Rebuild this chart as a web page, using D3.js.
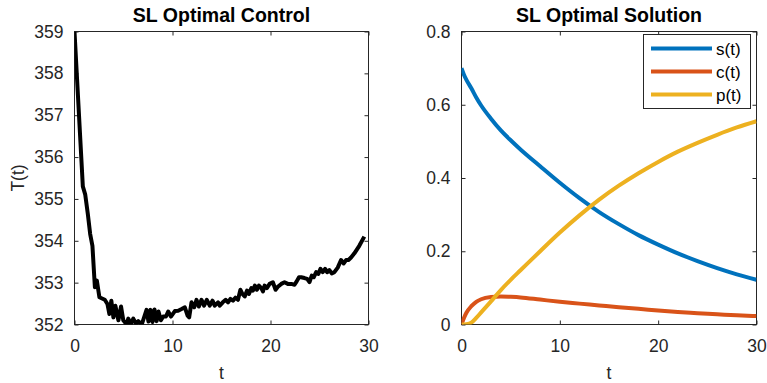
<!DOCTYPE html>
<html>
<head>
<meta charset="utf-8">
<script src="https://cdn.jsdelivr.net/npm/d3@7"></script>
<style>
  body { margin: 0; background: #fff; }
  svg { font-family: "Liberation Sans", Arial, sans-serif; }
</style>
</head>
<body>
<svg id="chart" width="767" height="383"></svg>
<script>
// left panel: control temperature T(t)
const ctrlT = [0, 0.85, 1.09, 1.36, 1.60, 1.83, 2.08, 2.28, 2.54, 3.09, 3.36, 3.56, 3.76, 3.97, 4.17, 4.48, 4.75, 4.98,
  5.33, 5.49, 5.74, 6.00, 6.28, 6.51, 6.86, 7.35, 7.55, 7.75, 7.96, 8.16, 8.38, 8.57, 8.82, 9.05, 9.33, 9.56, 9.84,
  10.24, 10.58, 10.93, 11.26, 11.54, 11.70, 11.94, 12.21, 12.45, 12.69, 12.96, 13.22, 13.50, 13.80, 14.08, 14.31,
  14.65, 14.82, 15.13, 15.43, 15.67, 15.91, 16.17, 16.42, 16.68, 16.93, 17.13, 17.37, 17.60, 17.80, 18.05, 18.21,
  18.41, 18.62, 18.82, 19.06, 19.23, 19.40, 19.63, 19.91, 20.24, 20.52, 20.75, 21.10, 21.43, 21.77, 22.12, 22.45,
  22.67, 22.91, 23.13, 23.47, 23.74, 23.98, 24.21, 24.42, 24.66, 24.89, 25.10, 25.33, 25.57, 25.78, 26.01, 26.25,
  26.52, 26.86, 27.20, 27.47, 27.71, 27.95, 28.22, 28.56, 29.06, 29.57];
const ctrlV = [359.0, 355.3, 355.11, 354.64, 354.16, 353.88, 352.89, 353.05, 352.65, 352.59, 352.49, 352.25, 352.57, 352.17, 352.45, 352.10, 352.43, 352.10,
  352.0, 352.14, 352.0, 352.14, 352.02, 352.08, 352.0, 352.35, 352.07, 352.35, 352.06, 352.36, 352.08, 352.31, 352.10, 352.19, 352.19, 352.31, 352.19,
  352.32, 352.33, 352.37, 352.41, 352.21, 352.17, 352.53, 352.41, 352.59, 352.43, 352.59, 352.45, 352.59, 352.45, 352.57, 352.45,
  352.53, 352.45, 352.53, 352.59, 352.53, 352.61, 352.57, 352.64, 352.59, 352.83, 352.73, 352.67, 352.81, 352.73, 352.87, 352.81,
  352.93, 352.83, 352.93, 352.87, 352.79, 352.93, 352.87, 352.97, 353.01, 352.83, 352.90, 352.97, 353.01, 352.97, 352.97, 352.95,
  353.03, 353.13, 353.13, 353.11, 353.09, 353.01, 353.17, 353.13, 353.25, 353.21, 353.33, 353.25, 353.33, 353.25, 353.30, 353.22,
  353.25, 353.36, 353.54, 353.46, 353.54, 353.54, 353.60, 353.70, 353.88, 354.10];
const leftYTicks = [352, 353, 354, 355, 356, 357, 358, 359];
const xTicks = [0, 10, 20, 30];

// right panel: s, c, p
const solT = [0, 0.25, 0.5, 1, 1.5, 2, 3, 4, 5, 6, 8, 10, 12, 14, 16, 18, 20, 22, 24, 26, 28, 30];
const sVals = [0.700, 0.682, 0.668, 0.645, 0.620, 0.598, 0.562, 0.530, 0.503, 0.478, 0.432, 0.387, 0.345, 0.307, 0.274, 0.244, 0.218, 0.194, 0.173, 0.154, 0.137, 0.122];
const cVals = [0, 0.018, 0.032, 0.050, 0.062, 0.069, 0.075, 0.0765, 0.0755, 0.074, 0.068, 0.062, 0.057, 0.052, 0.047, 0.043, 0.038, 0.034, 0.031, 0.028, 0.025, 0.023];
const pVals = [0, 0, 0.0005, 0.005, 0.018, 0.033, 0.063, 0.094, 0.122, 0.148, 0.200, 0.251, 0.298, 0.341, 0.379, 0.413, 0.444, 0.472, 0.496, 0.518, 0.538, 0.555];
const rightYTicks = [0, 0.2, 0.4, 0.6, 0.8];
const seriesNames = ["s(t)", "c(t)", "p(t)"];
const seriesColors = ["#0072BD", "#D95319", "#EDB120"];

const svg = d3.select("#chart");
const axisColor = "#262626";
const axTop = 31.5, axBot = 324.5;
const tickFont = "17.5px";

function panel(id, x0, x1, yDomain, yTicks, yFmt, title, ylab) {
  const x = d3.scaleLinear().domain([0, 30]).range([x0, x1]);
  const y = d3.scaleLinear().domain(yDomain).range([axBot, axTop]);
  const g = svg.append("g");

  g.append("clipPath").attr("id", id)
    .append("rect").attr("x", x0).attr("y", axTop).attr("width", x1 - x0).attr("height", axBot - axTop);

  // axes (inner ticks on all four sides, like matlab box on)
  const styleAxis = sel => {
    sel.select(".domain").remove();
    sel.selectAll("line").attr("stroke", axisColor);
    sel.selectAll("text").attr("fill", axisColor).style("font-size", tickFont);
  };
  g.append("g").attr("transform", `translate(0,${axBot})`)
    .call(d3.axisBottom(x).tickValues(xTicks).tickSizeInner(-4).tickPadding(9))
    .call(styleAxis)
    .selectAll("text").attr("dy", null).attr("y", 27);
  g.append("g").attr("transform", `translate(0,${axTop})`)
    .call(d3.axisTop(x).tickValues(xTicks).tickSizeInner(-4).tickFormat(""))
    .call(styleAxis);
  g.append("g").attr("transform", `translate(${x0},0)`)
    .call(d3.axisLeft(y).tickValues(yTicks).tickFormat(yFmt).tickSizeInner(-4).tickPadding(11))
    .call(styleAxis);
  g.append("g").attr("transform", `translate(${x1},0)`)
    .call(d3.axisRight(y).tickValues(yTicks).tickSizeInner(-4).tickFormat(""))
    .call(styleAxis);
  g.append("rect").attr("x", x0).attr("y", axTop).attr("width", x1 - x0).attr("height", axBot - axTop)
    .attr("fill", "none").attr("stroke", axisColor).attr("stroke-width", 1);

  g.append("text").attr("x", (x0 + x1) / 2).attr("y", 21.5).attr("text-anchor", "middle")
    .style("font-size", "19.5px").style("font-weight", "bold").attr("fill", "#000").text(title);
  g.append("text").attr("x", (x0 + x1) / 2).attr("y", 379).attr("text-anchor", "middle")
    .style("font-size", tickFont).attr("fill", axisColor).text("t");
  if (ylab) {
    g.append("text").attr("transform", `translate(24,${(axTop + axBot) / 2}) rotate(-90)`)
      .attr("text-anchor", "middle").style("font-size", tickFont).attr("fill", axisColor).text(ylab);
  }
  const plot = g.append("g").attr("clip-path", `url(#${id})`);
  return { x, y, g, plot };
}

// left
const L = panel("clipL", 74.5, 368.5, [352, 359], leftYTicks, d3.format("d"), "SL Optimal Control", "T(t)");
const lineL = d3.line().x((d, i) => L.x(ctrlT[i])).y(d => L.y(d));
L.plot.append("path").datum(ctrlV).attr("d", lineL)
  .attr("fill", "none").attr("stroke", "#000").attr("stroke-width", 4).attr("stroke-linejoin", "round");

// right
const R = panel("clipR", 461.5, 756.5, [0, 0.8], rightYTicks, d => d === 0 ? "0" : d3.format(".1f")(d), "SL Optimal Solution", null);
const lineR = d3.line().x((d, i) => R.x(solT[i])).y(d => R.y(d)).curve(d3.curveMonotoneX);
[sVals, cVals, pVals].forEach((vals, k) => {
  R.plot.append("path").datum(vals).attr("d", lineR)
    .attr("fill", "none").attr("stroke", seriesColors[k]).attr("stroke-width", 4);
});

// legend
const lg = R.g.append("g");
lg.append("rect").attr("x", 643.5).attr("y", 34.5).attr("width", 107).attr("height", 74)
  .attr("fill", "#fff").attr("stroke", axisColor).attr("stroke-width", 1);
seriesNames.forEach((n, k) => {
  const yy = 48.5 + k * 23;
  lg.append("line").attr("x1", 651).attr("x2", 712).attr("y1", yy).attr("y2", yy)
    .attr("stroke", seriesColors[k]).attr("stroke-width", 4);
  lg.append("text").attr("x", 716).attr("y", yy + 6).style("font-size", "17px")
    .attr("fill", "#000").text(n);
});
</script>
</body>
</html>
